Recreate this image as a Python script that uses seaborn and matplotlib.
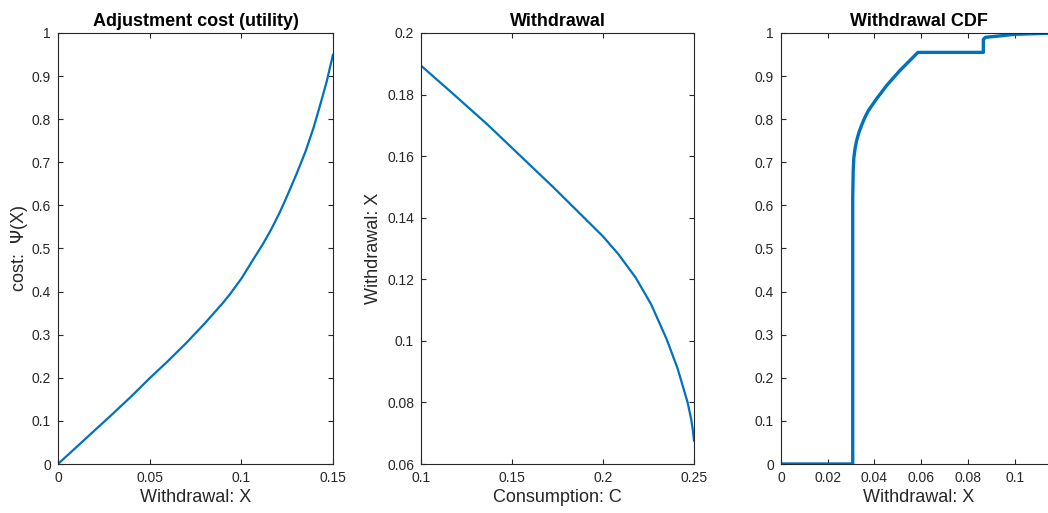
import numpy as np
import pandas as pd
import matplotlib
matplotlib.use("Agg")
import matplotlib.pyplot as plt
from matplotlib.ticker import FuncFormatter, MultipleLocator
import seaborn as sns

# ---- data ----
cost_x = [0, 0.01, 0.02, 0.03, 0.04, 0.05, 0.06, 0.07, 0.08, 0.09, 0.0938, 0.1,
          0.1029, 0.107, 0.112, 0.1165, 0.1211, 0.1255, 0.1302, 0.135, 0.1393,
          0.143, 0.1466, 0.15]
cost_psi = [0, 0.039, 0.078, 0.117, 0.157, 0.199, 0.239, 0.281, 0.326, 0.374, 0.394,
            0.430, 0.450, 0.478, 0.512, 0.546, 0.585, 0.627, 0.674, 0.725, 0.779,
            0.833, 0.888, 0.95]

cons_c = [0.1, 0.1177, 0.1361, 0.1544, 0.1727, 0.191, 0.2002, 0.2084, 0.218,
          0.2265, 0.235, 0.241, 0.2465, 0.2485, 0.2495, 0.25]
cons_x = [0.1894, 0.1802, 0.1705, 0.1602, 0.1499, 0.1392, 0.1338, 0.1282, 0.1205,
          0.1118, 0.1005, 0.091, 0.08, 0.0744, 0.0704, 0.0675]

cdf_x = [0, 0.0307, 0.0307, 0.0309, 0.0312, 0.0318, 0.0324, 0.0334, 0.0345, 0.0358,
         0.0374, 0.041, 0.0452, 0.0509, 0.0586, 0.0866, 0.0866, 0.0875, 0.095,
         0.1, 0.118]
cdf_y = [0, 0, 0.62, 0.68, 0.712, 0.735, 0.751, 0.770, 0.786, 0.803,
         0.82, 0.848, 0.878, 0.913, 0.955, 0.955, 0.985, 0.99, 0.994,
         0.997, 1.0]

titles = ["Adjustment cost (utility)", "Withdrawal", "Withdrawal CDF"]
xlabels = ["Withdrawal: X", "Consumption: C", "Withdrawal: X"]
ylabels = [r"cost:  $\Psi$(X)", "Withdrawal: X", ""]

# ---- style ----
sns.set_theme(style="ticks")
plt.rcParams['font.family'] = ['Liberation Sans', 'DejaVu Sans']
plt.rcParams['mathtext.fontset'] = 'dejavusans'

line_color = "#0072BD"
edge = "#262626"

fig = plt.figure(figsize=(10.48, 5.13), dpi=100)
W, H = 1048, 513
def pos(l, r, t=33, b=464):
    return [l / W, (H - b) / H, (r - l) / W, (b - t) / H]

ax1 = fig.add_axes(pos(58, 333))
ax2 = fig.add_axes(pos(421, 694))
ax3 = fig.add_axes(pos(781, 1056))

fmt = FuncFormatter(lambda v, p: ("%g" % round(v, 6)))

df1 = pd.DataFrame({"x": cost_x, "y": cost_psi})
df2 = pd.DataFrame({"x": cons_c, "y": cons_x})
df3 = pd.DataFrame({"x": cdf_x, "y": cdf_y})

sns.lineplot(data=df1, x="x", y="y", ax=ax1, color=line_color, lw=1.6,
             estimator=None, sort=False)
sns.lineplot(data=df2, x="x", y="y", ax=ax2, color=line_color, lw=1.6,
             estimator=None, sort=False)
sns.lineplot(data=df3, x="x", y="y", ax=ax3, color=line_color, lw=2.4,
             estimator=None, sort=False)

ax1.set_xlim(0, 0.15); ax1.set_ylim(0, 1)
ax1.xaxis.set_major_locator(MultipleLocator(0.05))
ax1.yaxis.set_major_locator(MultipleLocator(0.1))
ax2.set_xlim(0.1, 0.25); ax2.set_ylim(0.06, 0.2)
ax2.xaxis.set_major_locator(MultipleLocator(0.05))
ax2.yaxis.set_major_locator(MultipleLocator(0.02))
ax3.set_xlim(0, 0.1177); ax3.set_ylim(0, 1)
ax3.xaxis.set_major_locator(MultipleLocator(0.02))
ax3.yaxis.set_major_locator(MultipleLocator(0.1))

for ax, t, xl, yl in zip([ax1, ax2, ax3], titles, xlabels, ylabels):
    ax.xaxis.set_major_formatter(fmt)
    ax.yaxis.set_major_formatter(fmt)
    ax.tick_params(direction="in", length=3.5, width=0.8, colors=edge,
                   labelsize=10, top=True, right=True, pad=5)
    for s in ax.spines.values():
        s.set_visible(True)
        s.set_color(edge)
        s.set_linewidth(0.8)
    ax.set_title(t, fontsize=13, fontweight="bold", color="black", pad=5)
    ax.set_xlabel(xl, fontsize=13, color=edge, labelpad=3)
    ax.set_ylabel(yl, fontsize=13, color=edge,
                  labelpad=1 if ax is ax1 else 4)
    ax.set_facecolor("white")

fig.savefig("out.png", dpi=100, facecolor="white")
